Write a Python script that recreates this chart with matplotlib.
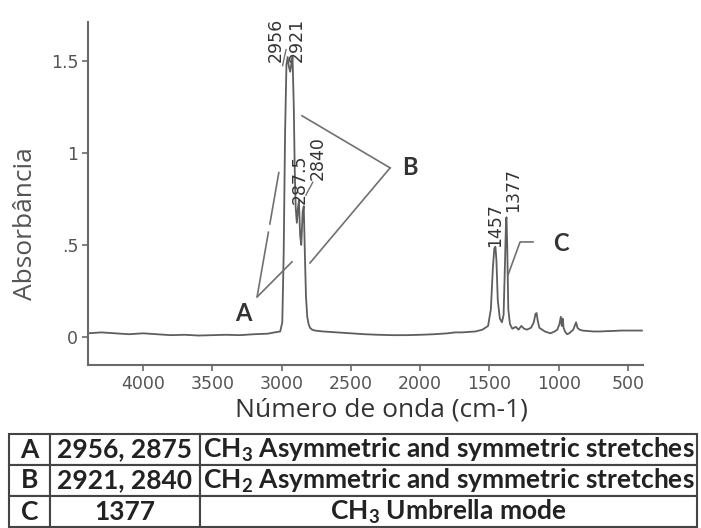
import numpy as np
import matplotlib.pyplot as plt

plt.rcParams['mathtext.default'] = 'regular'

# spectrum (wavenumber cm-1, absorbance)
wn = [4400, 4300, 4200, 4100, 4000, 3900, 3800, 3700, 3600, 3500, 3400, 3300,
      3200, 3100, 3050, 3010, 2995, 2985, 2975, 2965, 2956, 2948, 2938, 2930,
      2921, 2912, 2905, 2898, 2890, 2882, 2875, 2866, 2858, 2848, 2840, 2832,
      2824, 2815, 2805, 2795, 2780, 2760, 2700, 2600, 2500, 2400, 2300, 2200,
      2100, 2000, 1900, 1800, 1750, 1700, 1600, 1550, 1510, 1490, 1475, 1465,
      1457, 1450, 1440, 1425, 1410, 1398, 1388, 1380, 1377, 1372, 1364, 1352,
      1335, 1310, 1290, 1270, 1250, 1230, 1200, 1180, 1168, 1160, 1152, 1140,
      1120, 1100, 1060, 1030, 1010, 995, 985, 978, 972, 965, 955, 940, 925,
      910, 895, 885, 875, 865, 850, 830, 800, 750, 700, 650, 600, 550, 500,
      450, 400]
ab = [0.020, 0.025, 0.020, 0.015, 0.020, 0.015, 0.010, 0.012, 0.008, 0.010,
      0.012, 0.010, 0.015, 0.018, 0.025, 0.030, 0.080, 0.450, 1.100, 1.480,
      1.520, 1.470, 1.440, 1.480, 1.520, 1.250, 0.900, 0.700, 0.620, 0.700,
      0.740, 0.550, 0.500, 0.680, 0.710, 0.450, 0.220, 0.110, 0.070, 0.050,
      0.040, 0.035, 0.030, 0.025, 0.020, 0.015, 0.012, 0.010, 0.010, 0.012,
      0.015, 0.020, 0.025, 0.025, 0.030, 0.040, 0.060, 0.150, 0.380, 0.480,
      0.490, 0.420, 0.200, 0.100, 0.080, 0.120, 0.400, 0.640, 0.650, 0.500,
      0.150, 0.070, 0.045, 0.055, 0.040, 0.060, 0.045, 0.040, 0.050, 0.080,
      0.125, 0.130, 0.090, 0.050, 0.040, 0.030, 0.020, 0.030, 0.040, 0.070,
      0.110, 0.060, 0.100, 0.050, 0.030, 0.015, 0.020, 0.030, 0.040, 0.060,
      0.080, 0.050, 0.040, 0.035, 0.033, 0.030, 0.030, 0.032, 0.033, 0.035,
      0.035, 0.035, 0.035]

y_ticks = [0, 0.5, 1, 1.5]
y_tick_labels = ['0', '.5', '1', '1.5']
x_ticks = [4000, 3500, 3000, 2500, 2000, 1500, 1000, 500]

# peak labels: (text, x, y at bottom of the text)
peak_labels = [('2956', 3040, 1.495), ('2921', 2889, 1.495),
               ('287.5', 2867, 0.72), ('2840', 2737, 0.85),
               ('1457', 1460, 0.49), ('1377', 1330, 0.68)]

table_rows = [['A', '2956, 2875', 'CH$_3$ Asymmetric and symmetric stretches'],
              ['B', '2921, 2840', 'CH$_2$ Asymmetric and symmetric stretches'],
              ['C', '1377', 'CH$_3$ Umbrella mode']]

grey = '#6a6a6a'
fig = plt.figure(figsize=(7.01, 5.28), dpi=100)
ax = fig.add_axes([88/701, 1-365/528, (643-88)/701, (365-22)/528])

ax.plot(wn, ab, color='#5e5e5e', lw=1.3)
ax.set_xlim(4397, 392)
ax.set_ylim(-0.152, 1.71)

for s in ['top', 'right']:
    ax.spines[s].set_visible(False)
for s in ['left', 'bottom']:
    ax.spines[s].set_color(grey)
    ax.spines[s].set_linewidth(1.5)
ax.set_xticks(x_ticks)
ax.set_yticks(y_ticks)
ax.set_yticklabels(y_tick_labels)
ax.tick_params(colors=grey, labelcolor='#555555', labelsize=12.5, length=4,
               width=1.2, pad=3)
ax.set_ylabel('Absorbância', fontsize=19, color='#555555', family='Open Sans',
              va='center')
ax.set_xlabel('Número de onda (cm-1)', fontsize=19, color='#333333',
              family='Open Sans', va='center')
ax.yaxis.set_label_coords(-0.1135, 0.411)
ax.xaxis.set_label_coords(0.528, -0.131)

for txt, x, y in peak_labels:
    ax.text(x, y, txt, rotation=90, ha='center', va='bottom', fontsize=12.5,
            color='#333333')

# leader lines
lc = '#707070'
ax.plot([2217, 2853], [0.918, 1.201], color=lc, lw=1.2)
ax.plot([2217, 2795], [0.918, 0.402], color=lc, lw=1.2)
ax.plot([3177, 3019], [0.217, 0.897], color=lc, lw=1.2, dashes=(40, 4))
ax.plot([3177, 2925], [0.217, 0.408], color=lc, lw=1.2)
ax.plot([1186, 1279, 1366], [0.516, 0.516, 0.337], color=lc, lw=1.2)
ax.plot([2993, 2968], [1.473, 1.56], color=lc, lw=1.0)
ax.plot([2775, 2825], [0.84, 0.77], color=lc, lw=1.0)

ax.text(2131, 0.918, 'B', fontsize=17, weight='bold', color='#333333',
        va='center', ha='left', family='Lato')
ax.text(3278, 0.13, 'A', fontsize=17, weight='bold', color='#333333',
        va='center', ha='center', family='Lato')
ax.text(1041, 0.51, 'C', fontsize=17, weight='bold', color='#333333',
        va='center', ha='left', family='Lato')

# table
tax = fig.add_axes([9/701, 1/528, 688/701, 93/528])
tax.axis('off')
tb = tax.table(cellText=table_rows, colWidths=[0.0596, 0.218, 0.7224],
               bbox=[0, 0, 1, 1], cellLoc='center')
tb.auto_set_font_size(False)
for (r, c), cell in tb.get_celld().items():
    cell.set_edgecolor('#444444')
    cell.set_linewidth(1.5)
    t = cell.get_text()
    t.set_fontsize(19)
    t.set_fontweight('bold')
    t.set_family('Lato')
    t.set_color('#222222')
    if c == 2 and r < 2:
        t.set_ha('left')
        cell.PAD = 0.006

fig.savefig('out.png', dpi=100)
